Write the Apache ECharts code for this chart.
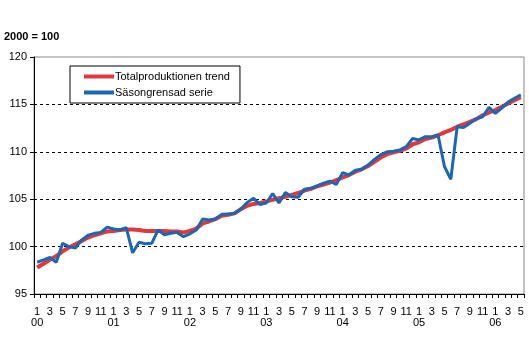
<!DOCTYPE html>
<html>
<head>
<meta charset="utf-8">
<script src="https://cdn.jsdelivr.net/npm/echarts@6/dist/echarts.min.js"></script>
<style>
  html, body { margin: 0; padding: 0; background: #fff; }
  #chart { width: 529px; height: 338px; }
</style>
</head>
<body>
<div id="chart"></div>
<script>
// Monthly index, 2000 = 100, January 2000 – May 2006
const years = ['00', '01', '02', '03', '04', '05', '06'];
const monthsLastYear = 5;

const trendName = 'Totalproduktionen trend';
const seasonalName = 'Säsongrensad serie';

const trend = [
  97.8, 98.2, 98.6, 99.0, 99.5, 99.9, 100.25, 100.6, 100.95, 101.2, 101.4, 101.6,
  101.65, 101.75, 101.8, 101.8, 101.75, 101.65, 101.65, 101.65, 101.65, 101.6, 101.6, 101.5,
  101.65, 101.9, 102.45, 102.65, 102.9, 103.25, 103.35, 103.5, 103.95, 104.3, 104.5, 104.6,
  104.75, 104.95, 105.1, 105.25, 105.45, 105.65, 105.9, 106.1, 106.35, 106.55, 106.75, 107.0,
  107.3, 107.55, 107.9, 108.15, 108.5, 108.95, 109.4, 109.75, 109.95, 110.1, 110.35, 110.8,
  111.0, 111.35, 111.5, 111.75, 112.05, 112.3, 112.65, 112.9, 113.15, 113.45, 113.85, 114.15,
  114.4, 114.75, 115.1, 115.45, 115.75
];

const seasonal = [
  98.35, 98.6, 98.85, 98.35, 100.35, 100.0, 99.85, 100.7, 101.2, 101.4, 101.5, 102.05,
  101.85, 101.75, 102.0, 99.35, 100.45, 100.3, 100.35, 101.75, 101.25, 101.4, 101.5, 101.05,
  101.35, 101.75, 102.9, 102.8, 102.9, 103.4, 103.45, 103.5, 103.95, 104.65, 105.1, 104.45,
  104.6, 105.6, 104.6, 105.7, 105.25, 105.2, 106.05, 106.15, 106.4, 106.7, 106.9, 106.55,
  107.8, 107.55, 108.05, 108.15, 108.6, 109.2, 109.7, 110.0, 110.05, 110.2, 110.55, 111.4,
  111.25, 111.6, 111.6, 111.75, 108.45, 107.1, 112.65, 112.55, 113.0, 113.5, 113.7, 114.7,
  114.05, 114.6, 115.25, 115.65, 116.0
];

// Category keys "month|yy"
const categories = [];
years.forEach((yy, yi) => {
  const last = yi === years.length - 1 ? monthsLastYear : 12;
  for (let m = 1; m <= last; m++) categories.push(m + '|' + yy);
});

const yTicks = [95, 100, 105, 110, 115, 120];
const baseLabel = '2000 = 100';

const font = 'Arial, "Liberation Sans", sans-serif';
const chart = echarts.init(document.getElementById('chart'), null, { renderer: 'canvas' });

chart.setOption({
  animation: false,
  backgroundColor: '#ffffff',
  title: {
    text: baseLabel,
    left: 4,
    top: 31,
    padding: 0,
    textStyle: { fontFamily: font, fontSize: 11, fontWeight: 'bold', color: '#000' }
  },
  legend: {
    orient: 'vertical',
    left: 70,
    top: 66,
    padding: [5, 10, 5, 14],
    itemGap: 5,
    itemWidth: 30,
    itemHeight: 4,
    icon: 'rect',
    borderColor: '#000',
    borderWidth: 1,
    backgroundColor: '#fff',
    textStyle: { fontFamily: font, fontSize: 11, color: '#000', padding: [0, 0, 0, -4] },
    data: [trendName, seasonalName]
  },
  grid: {
    left: 34,
    right: 5,
    top: 57,
    bottom: 44,
    show: true,
    borderColor: '#888',
    borderWidth: 1,
    backgroundColor: 'transparent'
  },
  xAxis: {
    type: 'category',
    data: categories,
    boundaryGap: true,
    axisLine: { lineStyle: { color: '#000', width: 1 } },
    axisTick: { show: true, interval: 0, length: 4, lineStyle: { color: '#000' } },
    axisLabel: {
      interval: 1,
      margin: 12,
      fontFamily: font,
      fontSize: 11,
      lineHeight: 11,
      color: '#000',
      formatter: (v) => {
        const [m, yy] = v.split('|');
        return m === '1' ? m + '\n' + yy : m;
      }
    },
    splitLine: { show: false }
  },
  yAxis: {
    type: 'value',
    min: yTicks[0],
    max: yTicks[yTicks.length - 1],
    interval: 5,
    axisLine: { show: true, lineStyle: { color: '#000', width: 1 } },
    axisTick: { show: true, length: 4, lineStyle: { color: '#000' } },
    axisLabel: { margin: 7, fontFamily: font, fontSize: 11, color: '#000' },
    splitLine: {
      show: true,
      lineStyle: {
        color: ['transparent', '#000', '#000', '#000', '#000', 'transparent'],
        type: [3, 3],
        width: 1
      }
    }
  },
  series: [
    {
      name: trendName,
      type: 'line',
      data: trend,
      symbol: 'none',
      lineStyle: { color: '#e0383c', width: 4 },
      itemStyle: { color: '#e0383c' },
      z: 2
    },
    {
      name: seasonalName,
      type: 'line',
      data: seasonal,
      symbol: 'none',
      lineStyle: { color: '#1c67b4', width: 3 },
      itemStyle: { color: '#1c67b4' },
      z: 3
    }
  ]
});
</script>
</body>
</html>
